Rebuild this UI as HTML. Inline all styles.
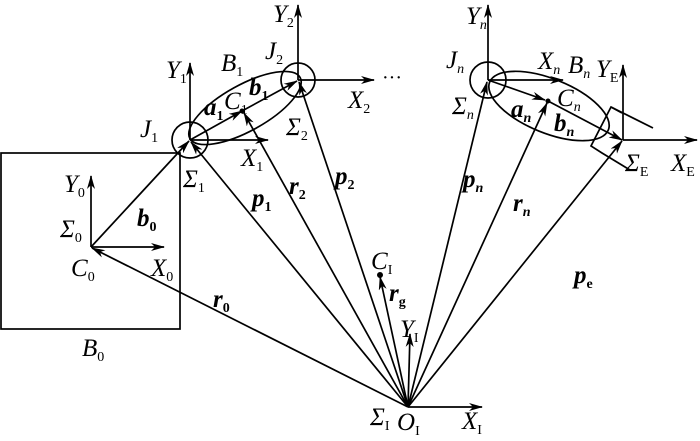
<!DOCTYPE html>
<html><head><style>
html,body{margin:0;padding:0;background:#fff;}
svg{display:block;}
text{font-family:"Liberation Serif",serif;font-style:italic;font-size:25px;fill:#000;}
.s{font-size:14px;font-style:normal;}
.i{font-size:14px;font-style:italic;}
.b{font-weight:bold;}
</style></head><body>
<svg width="700" height="441" viewBox="0 0 700 441" xmlns="http://www.w3.org/2000/svg">
<defs>
<marker id="a" markerWidth="14" markerHeight="8" refX="13" refY="4" orient="auto" markerUnits="userSpaceOnUse">
<path d="M0,0 L14,4 L0,8 L4,4 Z" fill="#000"/></marker>
</defs>
<g stroke="#000" stroke-width="1.7" fill="none">
<rect x="1" y="153" width="179" height="176"/>
<ellipse cx="245" cy="108" rx="63" ry="23" transform="rotate(-29 245 108)"/>
<ellipse cx="549" cy="106" rx="64" ry="27" transform="rotate(22 549 106)"/>
<circle cx="190" cy="140" r="18"/>
<circle cx="298" cy="80" r="17"/>
<circle cx="488" cy="80" r="18"/>
<path d="M653,128 L611,107 L591,146 L602,153 L630,170"/>
<path d="M611,107 L622,113"/>
</g>
<g stroke="#000" stroke-width="1.7" fill="none" marker-end="url(#a)">
<line x1="91" y1="247" x2="91" y2="176"/>
<line x1="91" y1="247" x2="164" y2="247"/>
<line x1="91" y1="247" x2="189" y2="141"/>
<line x1="190" y1="140" x2="190" y2="63"/>
<line x1="190" y1="140" x2="268" y2="140"/>
<line x1="190" y1="140" x2="242" y2="111"/>
<line x1="242" y1="111" x2="297" y2="81"/>
<line x1="298" y1="80" x2="298" y2="5"/>
<line x1="488" y1="80" x2="488" y2="5"/>
<line x1="488" y1="80" x2="563" y2="80"/>
<line x1="488" y1="80" x2="545" y2="100"/>
<line x1="548" y1="101" x2="622" y2="140"/>
<line x1="623" y1="140" x2="623" y2="65"/>
<line x1="623" y1="140" x2="697" y2="140"/>
<line x1="408" y1="407" x2="482" y2="407"/>
<line x1="408" y1="407" x2="410" y2="334"/>
<line x1="408" y1="407" x2="380" y2="277"/>
<line x1="408" y1="407" x2="92" y2="248"/>
<line x1="408" y1="407" x2="191" y2="142"/>
<line x1="408" y1="407" x2="244" y2="113"/>
<line x1="408" y1="407" x2="299" y2="82"/>
<line x1="408" y1="407" x2="487" y2="82"/>
<line x1="408" y1="407" x2="547" y2="103"/>
<line x1="408" y1="407" x2="622" y2="141"/>
</g>
<line x1="298" y1="80" x2="374" y2="80" stroke="#000" stroke-width="1.7" marker-end="url(#a)"/>
<circle cx="548" cy="101" r="2.5" fill="#000"/>
<circle cx="242" cy="111" r="2.5" fill="#000"/>
<circle cx="380" cy="275" r="3" fill="#000"/>
<text x="382" y="84" style="font-style:normal;font-size:20px">···</text>
<g font-size="25">
<text x="166" y="78">Y<tspan class="s" dy="5">1</tspan></text>
<text x="140" y="137">J<tspan class="s" dy="5">1</tspan></text>
<text x="183" y="187">Σ<tspan class="s" dy="5">1</tspan></text>
<text x="241" y="166">X<tspan class="s" dy="5">1</tspan></text>
<text x="221" y="71">B<tspan class="s" dy="5">1</tspan></text>
<text x="204" y="115" class="b">a<tspan class="s" dy="5">1</tspan></text>
<text x="224" y="109">C<tspan class="s" dy="5">1</tspan></text>
<text x="249" y="95" class="b">b<tspan class="s" dy="5">1</tspan></text>
<text x="265" y="59">J<tspan class="s" dy="5">2</tspan></text>
<text x="273" y="22">Y<tspan class="s" dy="5">2</tspan></text>
<text x="286" y="135">Σ<tspan class="s" dy="5">2</tspan></text>
<text x="348" y="108">X<tspan class="s" dy="5">2</tspan></text>
<text x="64" y="192">Y<tspan class="s" dy="5">0</tspan></text>
<text x="60" y="237">Σ<tspan class="s" dy="5">0</tspan></text>
<text x="71" y="276">C<tspan class="s" dy="5">0</tspan></text>
<text x="151" y="276">X<tspan class="s" dy="5">0</tspan></text>
<text x="137" y="226" class="b">b<tspan class="s" dy="5">0</tspan></text>
<text x="82" y="356">B<tspan class="s" dy="5">0</tspan></text>
<text x="213" y="307" class="b">r<tspan class="s" dy="5">0</tspan></text>
<text x="252" y="206" class="b">p<tspan class="s" dy="5">1</tspan></text>
<text x="289" y="194" class="b">r<tspan class="s" dy="5">2</tspan></text>
<text x="335" y="184" class="b">p<tspan class="s" dy="5">2</tspan></text>
<text x="371" y="269">C<tspan class="s" dy="5">I</tspan></text>
<text x="389" y="301" class="b">r<tspan class="s" dy="5">g</tspan></text>
<text x="400" y="337">Y<tspan class="s" dy="5">I</tspan></text>
<text x="370" y="425">Σ<tspan class="s" dy="5">I</tspan></text>
<text x="397" y="430">O<tspan class="s" dy="5">I</tspan></text>
<text x="462" y="429">X<tspan class="s" dy="5">I</tspan></text>
<text x="466" y="24">Y<tspan class="i" dy="5">n</tspan></text>
<text x="446" y="68">J<tspan class="i" dy="5">n</tspan></text>
<text x="452" y="114">Σ<tspan class="i" dy="5">n</tspan></text>
<text x="538" y="69">X<tspan class="i" dy="5">n</tspan></text>
<text x="568" y="73">B<tspan class="i" dy="5">n</tspan></text>
<text x="596" y="77">Y<tspan class="s" dy="5">E</tspan></text>
<text x="557" y="106">C<tspan class="i" dy="5">n</tspan></text>
<text x="511" y="117" class="b">a<tspan class="i" dy="5">n</tspan></text>
<text x="554" y="131" class="b">b<tspan class="i" dy="5">n</tspan></text>
<text x="463" y="187" class="b">p<tspan class="i" dy="5">n</tspan></text>
<text x="513" y="211" class="b">r<tspan class="i" dy="5">n</tspan></text>
<text x="574" y="283" class="b">p<tspan class="s" dy="5">e</tspan></text>
<text x="625" y="171">Σ<tspan class="s" dy="5">E</tspan></text>
<text x="671" y="171">X<tspan class="s" dy="5">E</tspan></text>
</g>
</svg>
</body></html>
